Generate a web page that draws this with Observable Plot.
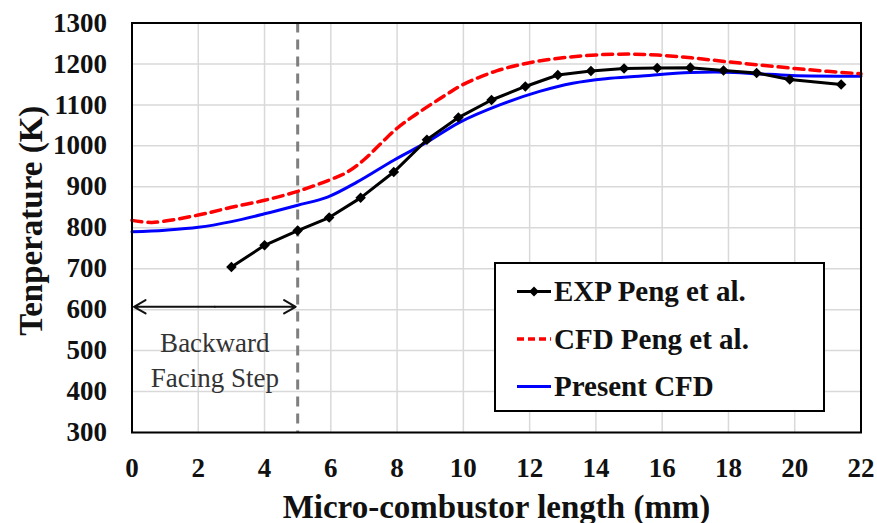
<!DOCTYPE html>
<html><head><meta charset="utf-8">
<script src="https://cdn.jsdelivr.net/npm/d3@7"></script>
<script src="https://cdn.jsdelivr.net/npm/@observablehq/plot@0.6"></script>
<style>
body{margin:0;background:#fff;}
#wrap{position:relative;width:877px;height:523px;}
#wrap svg{position:absolute;left:0;top:0;}
</style></head><body><div id="wrap"></div>
<script>
// ---- data ----
const expX = [3, 4, 5, 5.95, 6.9, 7.9, 8.9, 9.85, 10.85, 11.87, 12.85, 13.85, 14.85, 15.85, 16.85, 17.85, 18.85, 19.85, 21.4];
const expT = [704, 757, 793, 825, 873, 936, 1015, 1069, 1112, 1145, 1173, 1183, 1189, 1190, 1191, 1184, 1178, 1162, 1150];

const cfdPengX = [0, 0.6, 2, 3, 4, 5, 6, 6.5, 7, 7.5, 8, 8.5, 9, 9.5, 10, 11, 12, 13, 14, 15, 16, 17, 18, 19, 20, 21, 22];
const cfdPengT = [818, 813, 831, 850, 867, 889, 918, 936, 966, 1005, 1043, 1073, 1100, 1126, 1150, 1183, 1203, 1215, 1222, 1224, 1221, 1214, 1205, 1197, 1189, 1182, 1176];

const presentX = [0, 1, 2, 3, 4, 5, 5.9, 6.8, 7.9, 8.9, 9.9, 11.1, 12.3, 13.3, 14.3, 15.3, 16.85, 17.9, 18.9, 19.9, 22];
const presentT = [790, 794, 801, 815, 834, 855, 875, 912, 965, 1009, 1058, 1100, 1133, 1153, 1164, 1170, 1179, 1180, 1176, 1172, 1170];

const xTicks = [0, 2, 4, 6, 8, 10, 12, 14, 16, 18, 20, 22];
const yTicks = [300, 400, 500, 600, 700, 800, 900, 1000, 1100, 1200, 1300];

const xLabel = "Micro-combustor length (mm)";
const yLabel = "Tenperature (K)";
const seriesNames = ["EXP Peng et al.", "CFD Peng et al.", "Present CFD"];
const stepStart = 0, stepEnd = 5, stepArrowT = 607;
const stepText = ["Backward", "Facing Step"];
const stepTextT = [496, 412];

// ---- tables ----
const exp = expX.map((x, i) => ({x, t: expT[i]}));
const cfdPeng = cfdPengX.map((x, i) => ({x, t: cfdPengT[i]}));
const present = presentX.map((x, i) => ({x, t: presentT[i]}));
const stepMid = (stepStart + stepEnd) / 2;
const arrows = [{a: stepMid, b: stepStart, t: stepArrowT}, {a: stepMid, b: stepEnd, t: stepArrowT}];
const stepLabels = stepText.map((s, i) => ({s, x: stepMid, t: stepTextT[i]}));

const serif = "'Liberation Serif', 'Times New Roman', serif";

const chart = Plot.plot({
  width: 877, height: 523,
  marginLeft: 131.5, marginRight: 16.5, marginTop: 22.5, marginBottom: 91,
  style: {fontFamily: serif, background: "white", overflow: "visible"},
  x: {domain: [0, 22]},
  y: {domain: [300, 1300]},
  marks: [
    Plot.gridX(xTicks, {stroke: "#d9d9d9", strokeOpacity: 1, strokeWidth: 1.5}),
    Plot.gridY(yTicks, {stroke: "#d9d9d9", strokeOpacity: 1, strokeWidth: 1.5}),
    Plot.ruleX([stepEnd], {stroke: "#7f7f7f", strokeWidth: 3, strokeDasharray: "10,7"}),
    Plot.arrow(arrows, {x1: "a", x2: "b", y1: "t", y2: "t", stroke: "#111", strokeWidth: 2, headLength: 10, insetEnd: 2}),
    Plot.text(stepLabels, {x: "x", y: "t", text: "s", lineAnchor: "bottom", fontSize: 27, fontWeight: "normal", fill: "#333"}),
    Plot.line(present, {x: "x", y: "t", stroke: "#0000ff", strokeWidth: 3, curve: "catmull-rom"}),
    Plot.line(cfdPeng, {x: "x", y: "t", stroke: "#ff0000", strokeWidth: 3.5, strokeDasharray: "10,6", curve: "catmull-rom"}),
    Plot.line(exp, {x: "x", y: "t", stroke: "#000", strokeWidth: 3}),
    Plot.dot(exp, {x: "x", y: "t", symbol: "square", rotate: 45, r: 4.2, fill: "#000", stroke: "none"}),
    Plot.axisX(xTicks, {tickSize: 0, tickPadding: 25, fontSize: 27, fontWeight: "bold", label: null, fill: "#111", tickFormat: d => String(d)}),
    Plot.axisY(yTicks, {tickSize: 0, tickPadding: 25, fontSize: 27, fontWeight: "bold", label: null, fill: "#111", tickFormat: d => String(d)}),
    Plot.frame({stroke: "#000", strokeWidth: 2}),
    Plot.text([xLabel], {frameAnchor: "bottom", dy: 85, lineAnchor: "bottom", fontSize: 33, fontWeight: "bold", fill: "#111"}),
    Plot.text([yLabel], {frameAnchor: "left", textAnchor: "middle", rotate: -90, dx: -101, dy: -7, fontSize: 33, fontWeight: "bold", fill: "#111"})
  ]
});
document.getElementById("wrap").appendChild(chart);

// ---- legend overlay ----
const ov = d3.select("#wrap").append("svg").attr("width", 877).attr("height", 523).style("pointer-events", "none");
ov.append("rect").attr("x", 495).attr("y", 263).attr("width", 329).attr("height", 148)
  .attr("fill", "white").attr("stroke", "#000").attr("stroke-width", 2);
const legendStyles = [
  {stroke: "#000", dash: null, w: 3, marker: true},
  {stroke: "#ff0000", dash: "7,4", w: 3.5, marker: false},
  {stroke: "#0000ff", dash: null, w: 3, marker: false}
];
seriesNames.forEach((name, i) => {
  const cy = 291.5 + i * 47.5;
  const st = legendStyles[i];
  const ln = ov.append("line").attr("x1", 517).attr("x2", 551).attr("y1", cy).attr("y2", cy)
    .attr("stroke", st.stroke).attr("stroke-width", st.w);
  if (st.dash) ln.attr("stroke-dasharray", st.dash);
  if (st.marker) {
    ov.append("rect").attr("x", -3.5).attr("y", -3.5).attr("width", 7).attr("height", 7)
      .attr("fill", "#000").attr("transform", `translate(534,${cy}) rotate(45)`);
  }
  ov.append("text").attr("x", 554).attr("y", cy + 9.5).text(name)
    .attr("font-family", serif).attr("font-weight", "bold").attr("font-size", 29).attr("fill", "#111");
});
</script>
</body></html>
